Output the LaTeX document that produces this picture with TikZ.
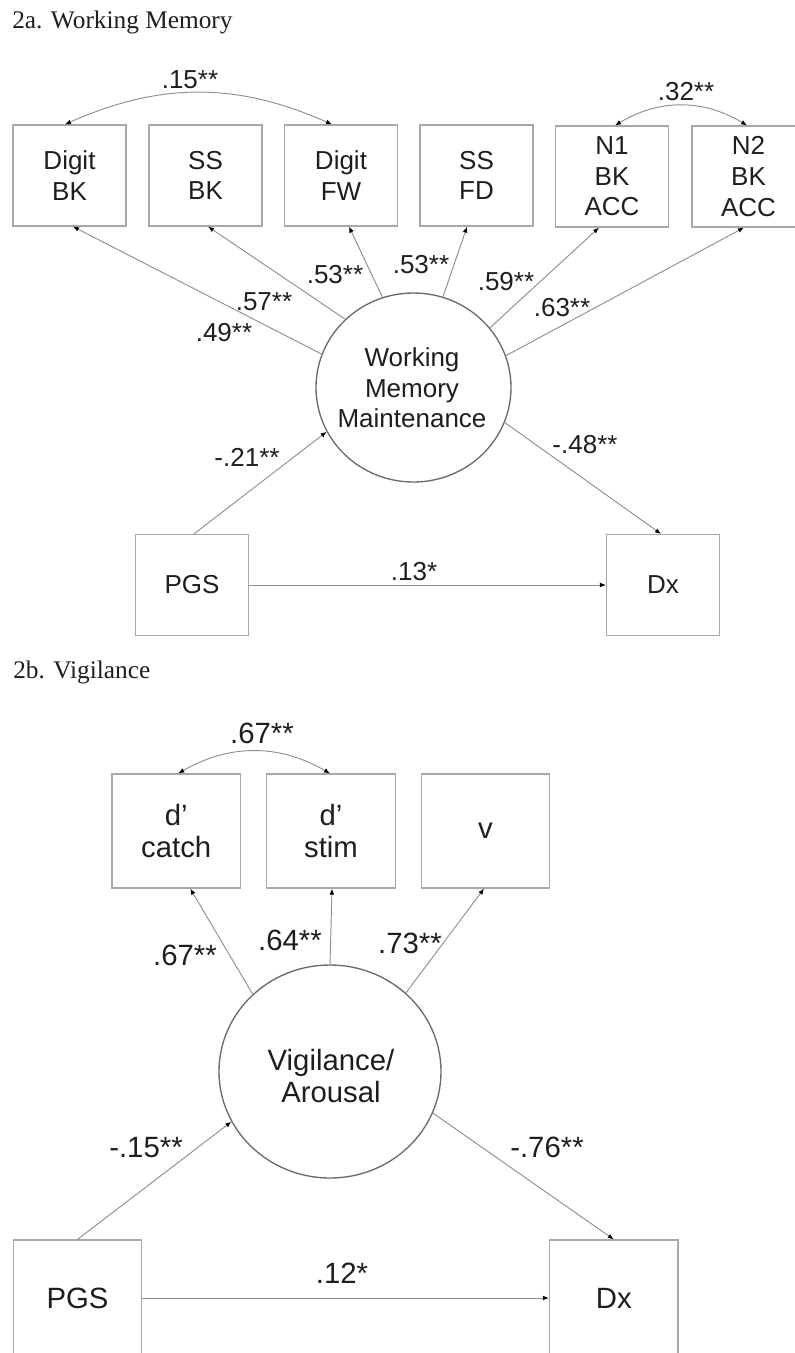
\documentclass[tikz,border=0pt]{standalone}
\usepackage{fontspec}
\setmainfont{Liberation Serif}
\setsansfont{Liberation Sans}
\usetikzlibrary{shapes.geometric,arrows.meta,calc}
\definecolor{boxgray}{HTML}{A8A8A8}
\definecolor{linegray}{HTML}{8E8E8E}
\definecolor{circgray}{HTML}{6A6A6A}
\definecolor{txt}{HTML}{1E1E1E}
\begin{document}
\begin{tikzpicture}[x=0.75pt,y=-0.75pt,
  fa/.style={font=\sffamily\fontsize{19.5}{23}\selectfont, text=txt},
  fb/.style={font=\sffamily\fontsize{22}{24.5}\selectfont, text=txt},
  ttl/.style={font=\fontsize{19}{22}\selectfont, text=txt, inner sep=0pt, anchor=base west},
  boxa/.style={draw=boxgray, line width=0.9pt, minimum width=84.75pt, minimum height=75.75pt, inner sep=0pt, align=center, fa},
  boxb/.style={draw=boxgray, line width=0.9pt, minimum width=96.4pt, minimum height=85.5pt, inner sep=0pt, align=center, fb},
  ell/.style={ellipse, draw=circgray, line width=1pt, inner sep=0pt},
  laba/.style={fa, inner sep=0pt},
  labb/.style={fb, inner sep=0pt},
  arr/.style={draw=linegray, line width=0.7pt, -{Latex[length=4.5pt,width=3.6pt,color=black]}},
  darr/.style={draw=linegray, line width=0.7pt, {Latex[length=4.5pt,width=3.6pt,color=black]}-{Latex[length=4.5pt,width=3.6pt,color=black]}}
]
\useasboundingbox (0,0) rectangle (794,1353);

% ---------- 2a ----------
\node[ttl] (ta) at (12,28) {2a. Working Memory};

\node[boxa] (dbk)  at (69.5,175.5) {Digit\\BK};
\node[boxa] (ssbk) at (205.5,175.5) {SS\\BK};
\node[boxa] (dfw)  at (341,175.5) {Digit\\FW};
\node[boxa] (ssfd) at (476.5,175.5) {SS\\FD};
\node[boxa] (n1)   at (612,176.5) {N1\\BK\\ACC};
\node[boxa] (n2)   at (748.5,176.5) {N2\\BK\\ACC};

\node[ell, minimum width=146.25pt, minimum height=141.75pt] (wm) at (413.5,387.5) {};
\node[fa, align=center, inner sep=0pt] (wmt) at (412,388) {Working\\Memory\\Maintenance};

\node[boxa] (pgs) at (192,585) {PGS};
\node[boxa] (dx)  at (663,585) {Dx};

\draw[darr] ([xshift=-3.4pt]dbk.north) to[bend left=24] ([xshift=-6.75pt]dfw.north);
\draw[darr] ([xshift=2.25pt]n1.north) to[bend left=31] ([xshift=-1.1pt]n2.north);

\draw[arr] (wm.160.8) -- ([xshift=2.6pt]dbk.south);
\draw[arr] (wm.135.8) -- ([xshift=1.9pt]ssbk.south);
\draw[arr] (wm.109.2) -- ([xshift=6pt]dfw.south);
\draw[arr] (wm.72.5) -- ([xshift=-7.1pt]ssfd.south);
\draw[arr] (wm.38.8) -- ([xshift=-9.75pt]n1.south);
\draw[arr] (wm.19) -- ([xshift=-3.4pt]n2.south);
\draw[arr] ([xshift=1.5pt]pgs.north) -- (wm.207.2);
\draw[arr] (wm.339) -- ([xshift=-1.5pt]dx.north);
\draw[arr] (pgs.east) -- (dx.west);

\node[laba] (l15) at (190,80) {.15**};
\node[laba] (l32) at (686,92) {.32**};
\node[laba] (l49) at (224,333) {.49**};
\node[laba] (l57) at (264,302) {.57**};
\node[laba] (l53a) at (335,275) {.53**};
\node[laba] (l53b) at (421,265) {.53**};
\node[laba] (l59) at (506,282) {.59**};
\node[laba] (l63) at (562,308) {.63**};
\node[laba] (l21) at (247,457) {-.21**};
\node[laba] (l48) at (585,445) {-.48**};
\node[laba] (l13) at (414,572) {.13*};

% ---------- 2b ----------
\node[ttl] (tb) at (13,678) {2b. Vigilance};

\node[boxb] (dc) at (176.25,831) {d’\\catch};
\node[boxb] (ds) at (331,831) {d’\\stim};
\node[boxb] (vv) at (485.5,831) {v};

\node[ell, minimum width=166.5pt, minimum height=159.75pt] (va) at (330,1071.5) {};
\node[fb, align=center, inner sep=0pt] (vat) at (331,1076) {Vigilance/\\Arousal};

\node[boxb, minimum height=87pt] (pgs2) at (77.5,1298) {PGS};
\node[boxb, minimum height=87pt] (dx2)  at (613.75,1298) {Dx};

\draw[darr] ([xshift=1.5pt]dc.north) to[bend left=30] ([xshift=-0.75pt]ds.north);

\draw[arr] (va.135) -- ([xshift=10.5pt]dc.south);
\draw[arr] (va.90) -- ([xshift=0.75pt]ds.south);
\draw[arr] (va.46.7) -- ([xshift=-1.1pt]vv.south);
\draw[arr] (pgs2.north) -- (va.207.5);
\draw[arr] (va.338.4) -- (dx2.north);
\draw[arr] (pgs2.east) -- (dx2.west);

\node[labb] (m67a) at (262,733) {.67**};
\node[labb] (m67b) at (185,955) {.67**};
\node[labb] (m64) at (290,940) {.64**};
\node[labb] (m73) at (410,943) {.73**};
\node[labb] (m15) at (146,1148) {-.15**};
\node[labb] (m76) at (547,1147) {-.76**};
\node[labb] (m12) at (342,1273) {.12*};
\end{tikzpicture}
\end{document}
